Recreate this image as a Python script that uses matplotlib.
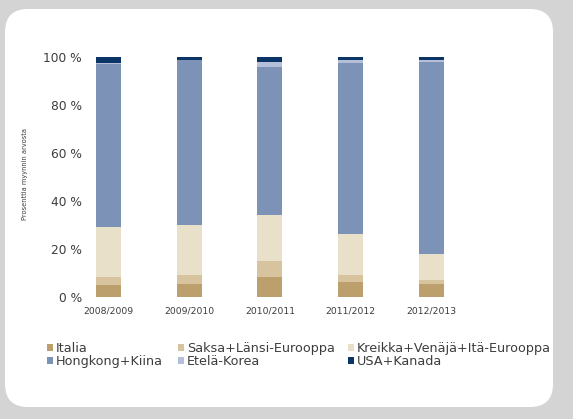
import numpy as np
import matplotlib
matplotlib.use("Agg")
from matplotlib import pyplot as plt
from matplotlib.patches import FancyBboxPatch, Patch

# Data (percent of sales value)
years = ["2008/2009", "2009/2010", "2010/2011", "2011/2012", "2012/2013"]
italia = [5.0, 5.4, 8.3, 6.1, 5.4]
saksa = [3.3, 3.8, 6.7, 2.9, 1.7]
kreikka = [20.8, 20.8, 19.2, 17.2, 10.8]
hongkong = [67.9, 68.6, 61.7, 71.5, 79.9]
korea = [0.7, 0.2, 1.9, 0.9, 0.8]
usa = [2.3, 1.2, 2.2, 1.4, 1.4]

names = ["Italia", "Saksa+Länsi-Eurooppa", "Kreikka+Venäjä+Itä-Eurooppa",
         "Hongkong+Kiina", "Etelä-Korea", "USA+Kanada"]
series = [italia, saksa, kreikka, hongkong, korea, usa]
colors = ["#bb9f6c", "#d8c39f", "#e8e0c9", "#7c92b6", "#b4bfd9", "#0b3467"]

txt = "#3c3c3c"

fig = plt.figure(figsize=(5.73, 4.19), dpi=100)
fig.patch.set_facecolor("#d4d4d4")

# white rounded panel (inches)
panel = FancyBboxPatch((0.05, 0.12), 5.48, 3.98,
                       boxstyle="round,pad=0,rounding_size=0.23",
                       transform=fig.dpi_scale_trans, facecolor="white",
                       edgecolor="none", zorder=-5)
fig.patches.append(panel)

ax = fig.add_axes([0.150, 0.2912, 0.6736, 0.5728])
ax.set_facecolor("none")
ax.set_zorder(2)

x = np.arange(len(years))
bottom = np.zeros(len(years))
for vals, c in zip(series, colors):
    ax.bar(x, vals, width=0.31, bottom=bottom, color=c, linewidth=0)
    bottom += np.array(vals)

ax.set_xlim(-0.278, 4.5)
ax.set_ylim(0, 100)
ax.set_yticks([0, 20, 40, 60, 80, 100])
ax.set_yticklabels(["0 %", "20 %", "40 %", "60 %", "80 %", "100 %"],
                   fontsize=8.8, color=txt)
ax.set_xticks(x)
ax.set_xticklabels(years, fontsize=6.7, color=txt)
ax.tick_params(axis="y", length=0, pad=3)
ax.tick_params(axis="x", length=0, pad=7)
for s in ax.spines.values():
    s.set_visible(False)

fig.text(25 / 573, 1 - 174 / 419, "Prosenttia myynnin arvosta",
         rotation=90, fontsize=4.8, color=txt, ha="center", va="center")

# legend, three columns (two rows each)
cols = [(0, 3), (1, 4), (2, 5)]
col_x = [47, 178, 348]
for (i, j), cx in zip(cols, col_x):
    h = [Patch(facecolor=colors[i], edgecolor="none"),
         Patch(facecolor=colors[j], edgecolor="none")]
    leg = fig.legend(h, [names[i], names[j]], loc="upper left",
                     bbox_to_anchor=(cx / 573, 1 - 342 / 419),
                     frameon=False, fontsize=9.2, borderpad=0,
                     borderaxespad=0, handlelength=0.45, handleheight=0.45,
                     handletextpad=0.25, labelspacing=0.0)
    for t in leg.get_texts():
        t.set_color(txt)

fig.savefig("out.png", dpi=100, facecolor=fig.get_facecolor())
